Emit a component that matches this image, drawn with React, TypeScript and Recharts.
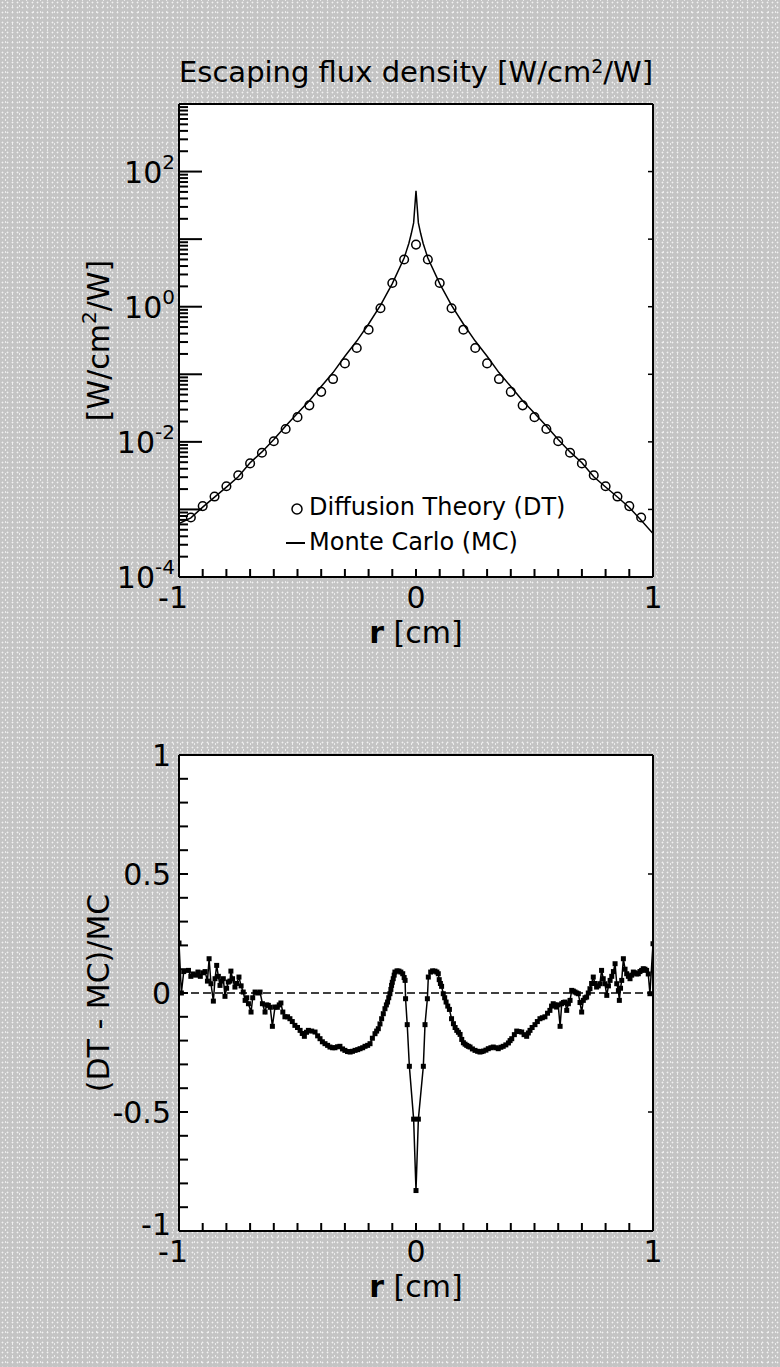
import React from 'react';
import {
  ComposedChart,
  LineChart,
  Line,
  Scatter,
  XAxis,
  YAxis,
  ReferenceLine,
  Legend,
  CartesianGrid,
} from 'recharts';

const FONT = '"DejaVu Sans", "Liberation Sans", Arial, sans-serif';

// ---------- Top chart: escaping flux density ----------
const dtR = [
  -0.95, -0.9, -0.85, -0.8, -0.75, -0.7, -0.65, -0.6, -0.55, -0.5,
  -0.45, -0.4, -0.35, -0.3, -0.25, -0.2, -0.15, -0.1, -0.05, 0,
  0.05, 0.1, 0.15, 0.2, 0.25, 0.3, 0.35, 0.4, 0.45, 0.5,
  0.55, 0.6, 0.65, 0.7, 0.75, 0.8, 0.85, 0.9, 0.95,
];
const dtFlux = [
  0.00076, 0.00112, 0.00155, 0.0022, 0.0032, 0.0048, 0.0069, 0.0102, 0.0155, 0.0232,
  0.0347, 0.055, 0.085, 0.145, 0.245, 0.457, 0.95, 2.24, 5.0, 8.3,
  5.0, 2.24, 0.95, 0.457, 0.245, 0.145, 0.085, 0.055, 0.0347, 0.0232,
  0.0155, 0.0102, 0.0069, 0.0048, 0.0032, 0.0022, 0.00155, 0.00112, 0.00076,
];

const mcR = [
  -1, -0.95, -0.9, -0.85, -0.8, -0.75, -0.7, -0.65, -0.6, -0.55,
  -0.5, -0.45, -0.4, -0.35, -0.3, -0.25, -0.2, -0.15, -0.1, -0.05,
  -0.04, -0.03, -0.02, -0.01, 0, 0.01, 0.02, 0.03, 0.04, 0.05,
  0.1, 0.15, 0.2, 0.25, 0.3, 0.35, 0.4, 0.45, 0.5, 0.55,
  0.6, 0.65, 0.7, 0.75, 0.8, 0.85, 0.9, 0.95, 1,
];
const mcFlux = [
  0.00062, 0.00075, 0.00108, 0.00152, 0.00214, 0.00305, 0.0049, 0.0071, 0.0108, 0.0171,
  0.0265, 0.0405, 0.066, 0.106, 0.185, 0.31, 0.555, 1.05, 2.2, 5.25,
  6.76, 8.7, 12.0, 17.4, 52, 17.4, 12.0, 8.7, 6.76, 5.25,
  2.2, 1.05, 0.555, 0.31, 0.185, 0.106, 0.066, 0.0405, 0.0265, 0.0171,
  0.0108, 0.0071, 0.0049, 0.00304, 0.00215, 0.00153, 0.00107, 0.00069, 0.00044,
];

const fluxDecades = [1e-4, 1e-3, 1e-2, 1e-1, 1, 10, 100, 1000];
const fluxMantissas = [1, 2, 3, 4, 5, 6, 7, 8, 9];
const fluxLabelExps = [-4, -2, 0, 2];

const rTicks = [
  -1, -0.9, -0.8, -0.7, -0.6, -0.5, -0.4, -0.3, -0.2, -0.1, 0,
  0.1, 0.2, 0.3, 0.4, 0.5, 0.6, 0.7, 0.8, 0.9, 1,
];
const rLabels = [-1, 0, 1];
const topTicks = [0];

// ---------- Bottom chart: (DT - MC)/MC ----------
const diffR = [
  -1, -0.99, -0.98, -0.96, -0.95, -0.94, -0.93, -0.92, -0.91, -0.9,
  -0.89, -0.88, -0.873, -0.865, -0.855, -0.848, -0.841, -0.834, -0.827, -0.82,
  -0.813, -0.806, -0.799, -0.792, -0.785, -0.781, -0.774, -0.764, -0.757, -0.747,
  -0.738, -0.729, -0.721, -0.714, -0.707, -0.696, -0.689, -0.679, -0.668, -0.658,
  -0.648, -0.637, -0.63, -0.623, -0.615, -0.606, -0.595, -0.585, -0.577, -0.57,
  -0.562, -0.553, -0.542, -0.532, -0.522, -0.511, -0.5, -0.489, -0.48, -0.471,
  -0.462, -0.454, -0.44, -0.426, -0.415, -0.405, -0.395, -0.384, -0.373, -0.363,
  -0.352, -0.342, -0.331, -0.321, -0.31, -0.3, -0.289, -0.278, -0.268, -0.257,
  -0.246, -0.236, -0.225, -0.215, -0.204, -0.194, -0.184, -0.173, -0.166, -0.159,
  -0.152, -0.145, -0.138, -0.131, -0.125, -0.12, -0.115, -0.11, -0.106, -0.103,
  -0.1, -0.096, -0.092, -0.089, -0.08, -0.072, -0.064, -0.056, -0.05, -0.046,
  -0.044, -0.037, -0.028, -0.01, 0,
  0.01, 0.031, 0.038, 0.048, 0.052, 0.062, 0.07, 0.08, 0.088, 0.094,
  0.098, 0.103, 0.108, 0.115, 0.121, 0.127, 0.134, 0.141, 0.15, 0.158,
  0.165, 0.172, 0.179, 0.186, 0.193, 0.2, 0.207, 0.214, 0.221, 0.228,
  0.238, 0.249, 0.26, 0.27, 0.277, 0.284, 0.295, 0.305, 0.316, 0.326,
  0.337, 0.347, 0.358, 0.368, 0.379, 0.39, 0.397, 0.404, 0.415, 0.425,
  0.435, 0.446, 0.456, 0.467, 0.474, 0.481, 0.49, 0.502, 0.512, 0.523,
  0.533, 0.544, 0.555, 0.565, 0.572, 0.579, 0.586, 0.593, 0.6, 0.608,
  0.615, 0.622, 0.629, 0.636, 0.643, 0.65, 0.657, 0.664, 0.671, 0.678,
  0.685, 0.692, 0.699, 0.706, 0.713, 0.72, 0.727, 0.734, 0.741, 0.748,
  0.755, 0.762, 0.769, 0.776, 0.783, 0.79, 0.797, 0.805, 0.812, 0.819,
  0.826, 0.833, 0.84, 0.847, 0.854, 0.858, 0.863, 0.868, 0.875, 0.882,
  0.889, 0.896, 0.903, 0.91, 0.917, 0.924, 0.931, 0.938, 0.945, 0.952,
  0.959, 0.966, 0.973, 0.98, 0.987, 1,
];
const diffV = [
  0.21, 0.0, 0.09, 0.095, 0.07, 0.08, 0.075, 0.088, 0.07, 0.085,
  0.09, 0.05, 0.144, 0.039, -0.034, 0.06, 0.116, 0.07, 0.032, 0.05,
  0.06, -0.014, 0.02, 0.046, 0.05, 0.092, 0.06, 0.025, 0.04, 0.067,
  0.03, 0.004, -0.031, -0.02, -0.045, -0.08, -0.02, 0.004, 0.0, 0.004,
  -0.045, -0.08, -0.05, -0.052, -0.06, -0.14, -0.059, -0.06, -0.05, -0.042,
  -0.08, -0.1, -0.1, -0.108, -0.12, -0.136, -0.145, -0.157, -0.17, -0.182,
  -0.165, -0.157, -0.16, -0.164, -0.18, -0.192, -0.205, -0.213, -0.22, -0.227,
  -0.23, -0.23, -0.226, -0.224, -0.235, -0.241, -0.246, -0.248, -0.245, -0.241,
  -0.238, -0.234, -0.23, -0.224, -0.22, -0.213, -0.19, -0.171, -0.16, -0.15,
  -0.13, -0.108, -0.087, -0.066, -0.05, -0.038, -0.02, -0.003, 0.015, 0.032,
  0.045, 0.06, 0.075, 0.088, 0.093, 0.092, 0.088, 0.081, 0.065, 0.053,
  -0.024, -0.133, -0.308, -0.53, -0.83,
  -0.53, -0.308, -0.133, -0.024, 0.067, 0.088, 0.093, 0.092, 0.088, 0.081,
  0.056, 0.04, 0.028, -0.003, -0.02, -0.038, -0.055, -0.069, -0.108, -0.129,
  -0.145, -0.157, -0.165, -0.174, -0.195, -0.209, -0.215, -0.22, -0.224, -0.227,
  -0.235, -0.241, -0.245, -0.248, -0.246, -0.244, -0.24, -0.234, -0.23, -0.227,
  -0.23, -0.234, -0.228, -0.224, -0.218, -0.21, -0.2, -0.192, -0.175, -0.16,
  -0.162, -0.164, -0.175, -0.182, -0.168, -0.157, -0.145, -0.133, -0.12, -0.108,
  -0.104, -0.1, -0.085, -0.073, -0.055, -0.045, -0.05, -0.059, -0.05, -0.14,
  -0.045, -0.04, -0.038, -0.073, -0.045, -0.031, 0.011, 0.008, 0.004, 0.0,
  -0.003, -0.04, -0.08, -0.031, -0.02, -0.017, 0.0, 0.018, 0.04, 0.067,
  0.04, 0.025, 0.03, 0.039, 0.095, 0.06, 0.039, -0.01, 0.03, 0.053,
  0.07, 0.09, 0.123, 0.039, 0.01, -0.031, 0.02, 0.053, 0.144, 0.1,
  0.081, 0.07, 0.06, 0.075, 0.088, 0.085, 0.08, 0.081, 0.09, 0.095,
  0.102, 0.1, 0.095, 0.08, -0.003, 0.207,
];
const diffTicks = [
  -1, -0.9, -0.8, -0.7, -0.6, -0.5, -0.4, -0.3, -0.2, -0.1, 0,
  0.1, 0.2, 0.3, 0.4, 0.5, 0.6, 0.7, 0.8, 0.9, 1,
];
const diffLabels = [-1, -0.5, 0, 0.5, 1];
const diffRightTicks = [-0.5, 0, 0.5];

// ---------- built tables ----------
const dtData = dtR.map((r, i) => ({ r, f: dtFlux[i] }));
const mcData = mcR.map((r, i) => ({ r, f: mcFlux[i] }));
const diffData = diffR.map((r, i) => ({ r, v: diffV[i] }));
const fluxTicks: number[] = [];
fluxDecades.forEach((d, di) => {
  fluxMantissas.forEach((m) => {
    if (di === fluxDecades.length - 1 && m > 1) return;
    fluxTicks.push(m * d);
  });
});

const near = (a: number, b: number) => Math.abs(a - b) < 1e-9;
const AX = { stroke: '#000', strokeWidth: 2 };
const TICK_FS = 30;

// ---------- tick renderers ----------
const BottomRTick = (props: any) => {
  const { x, y, payload } = props;
  const v = payload.value;
  const lab = rLabels.find((l) => near(l, v));
  return (
    <g>
      <line x1={x} y1={y} x2={x} y2={y - 8} stroke="#000" strokeWidth={2} />
      {lab !== undefined &&
        (lab < 0 ? (
          <text x={x + 9} y={y + 31} textAnchor="end" fontFamily={FONT} fontSize={TICK_FS} fill="#000">
            {String(lab)}
          </text>
        ) : (
          <text x={x} y={y + 31} textAnchor="middle" fontFamily={FONT} fontSize={TICK_FS} fill="#000">
            {String(lab)}
          </text>
        ))}
    </g>
  );
};

const TopRTick = (props: any) => {
  const { x, y } = props;
  return <line x1={x} y1={y} x2={x} y2={y + 5} stroke="#000" strokeWidth={1.5} />;
};

const FluxLeftTick = (props: any) => {
  const { x, y, payload } = props;
  const v = payload.value;
  const lg = Math.log10(v);
  const e = Math.round(lg);
  const major = Math.abs(lg - e) < 1e-6;
  const showLabel = major && fluxLabelExps.includes(e);
  return (
    <g>
      <line x1={x} y1={y} x2={x + (major ? 23 : 9)} y2={y} stroke="#000" strokeWidth={2} />
      {showLabel && (
        <text x={x - 4} y={y + 11} textAnchor="end" fontFamily={FONT} fontSize={TICK_FS} fill="#000">
          10
          <tspan dy={-14} fontSize={20}>
            {String(e)}
          </tspan>
        </text>
      )}
    </g>
  );
};

const RightSmallTick = (props: any) => {
  const { x, y } = props;
  return <line x1={x} y1={y} x2={x - 5} y2={y} stroke="#000" strokeWidth={1.5} />;
};

const DiffLeftTick = (props: any) => {
  const { x, y, payload } = props;
  const v = payload.value;
  const lab = diffLabels.find((l) => near(l, v));
  const dy = near(v, -1) ? 4 : 11;
  return (
    <g>
      <line x1={x} y1={y} x2={x + 9} y2={y} stroke="#000" strokeWidth={2} />
      {lab !== undefined && (
        <text x={x - 8} y={y + dy} textAnchor="end" fontFamily={FONT} fontSize={TICK_FS} fill="#000">
          {String(lab)}
        </text>
      )}
    </g>
  );
};

// ---------- labels ----------
const XLabel = (props: any) => {
  const vb = props.viewBox;
  return (
    <text x={vb.x + vb.width / 2} y={vb.y + 66} textAnchor="middle" fontFamily={FONT} fontSize={TICK_FS} fill="#000">
      <tspan fontWeight="bold">r</tspan>
      <tspan> [cm]</tspan>
    </text>
  );
};

const FluxYLabel = (props: any) => {
  const vb = props.viewBox;
  const cx = vb.x + 10;
  const cy = vb.y + vb.height / 2;
  return (
    <text
      x={cx}
      y={cy}
      transform={`rotate(-90, ${cx}, ${cy})`}
      textAnchor="middle"
      fontFamily={FONT}
      fontSize={TICK_FS}
      fill="#000"
    >
      [W/cm
      <tspan dy={-13} fontSize={20}>
        2
      </tspan>
      <tspan dy={13}>/W]</tspan>
    </text>
  );
};

const DiffYLabel = (props: any) => {
  const vb = props.viewBox;
  const cx = vb.x + 10;
  const cy = vb.y + vb.height / 2;
  return (
    <text
      x={cx}
      y={cy}
      transform={`rotate(-90, ${cx}, ${cy})`}
      textAnchor="middle"
      fontFamily={FONT}
      fontSize={TICK_FS}
      fill="#000"
    >
      (DT - MC)/MC
    </text>
  );
};

const renderLegend = () => (
  <div style={{ fontFamily: FONT, fontSize: 24, color: '#000', lineHeight: '35px', whiteSpace: 'nowrap' }}>
    <div style={{ display: 'flex', alignItems: 'center' }}>
      <svg width={26} height={20}>
        <circle cx={14} cy={11} r={5} fill="none" stroke="#000" strokeWidth={1.5} />
      </svg>
      <span>Diffusion Theory (DT)</span>
    </div>
    <div style={{ display: 'flex', alignItems: 'center' }}>
      <svg width={26} height={20}>
        <line x1={3} y1={10} x2={22} y2={10} stroke="#000" strokeWidth={2} />
      </svg>
      <span>Monte Carlo (MC)</span>
    </div>
  </div>
);

const DiffDot = (p: any) => (
  <rect key={`d${p.index}`} x={p.cx - 2.5} y={p.cy - 2.5} width={5} height={5} fill="#000" />
);

const DtCircle = (p: any) => (
  <circle cx={p.cx} cy={p.cy} r={4.3} fill="none" stroke="#000" strokeWidth={1.5} />
);

export default function App() {
  const bg: React.CSSProperties = {
    position: 'absolute',
    left: 0,
    top: 0,
    width: 780,
    height: 1367,
    backgroundColor: '#c4c4c4',
    backgroundImage:
      'radial-gradient(circle, #f2f2f2 0.8px, transparent 1.1px), radial-gradient(circle, #ececec 0.7px, transparent 1px)',
    backgroundSize: '5px 5px, 7px 6px',
    backgroundPosition: '0 0, 2px 3px',
    overflow: 'hidden',
    fontFamily: FONT,
  };
  return (
    <div style={bg}>
      <div
        style={{
          position: 'absolute',
          left: 0,
          top: 54,
          width: 832,
          textAlign: 'center',
          fontSize: 29,
          lineHeight: '36px',
          color: '#000',
          fontFamily: FONT,
          whiteSpace: 'nowrap',
        }}
      >
        Escaping flux density [W/cm<sup style={{ fontSize: 19, verticalAlign: 'top', position: 'relative', top: -6 }}>2</sup>/W]
      </div>

      <div style={{ position: 'absolute', left: 0, top: 0 }}>
        <ComposedChart width={780} height={680} margin={{ top: 94, right: 117, bottom: 23, left: 99 }}>
          <CartesianGrid fill="#fff" horizontal={false} vertical={false} stroke="none" />
          <XAxis
            dataKey="r"
            type="number"
            domain={[-1, 1]}
            ticks={rTicks}
            interval={0}
            allowDataOverflow
            height={80}
            tickSize={0}
            tickMargin={0}
            axisLine={AX}
            tick={BottomRTick}
            label={{ content: XLabel }}
          />
          <XAxis
            xAxisId="top"
            orientation="top"
            type="number"
            domain={[-1, 1]}
            ticks={topTicks}
            interval={0}
            height={10}
            tickSize={0}
            tickMargin={0}
            axisLine={AX}
            tick={TopRTick}
          />
          <YAxis
            type="number"
            scale="log"
            domain={[1e-4, 1e3]}
            allowDataOverflow
            ticks={fluxTicks}
            interval={0}
            width={80}
            tickSize={0}
            tickMargin={0}
            axisLine={AX}
            tick={FluxLeftTick}
            label={{ content: FluxYLabel }}
          />
          <YAxis
            yAxisId="right"
            orientation="right"
            type="number"
            scale="log"
            domain={[1e-4, 1e3]}
            allowDataOverflow
            ticks={fluxDecades}
            interval={0}
            width={10}
            tickSize={0}
            tickMargin={0}
            axisLine={AX}
            tick={RightSmallTick}
          />
          <Line
            data={mcData}
            dataKey="f"
            type="linear"
            stroke="#000"
            strokeWidth={1.5}
            dot={false}
            activeDot={false}
            isAnimationActive={false}
          />
          <Scatter data={dtData} dataKey="f" shape={DtCircle} isAnimationActive={false} />
          <Legend
            layout="vertical"
            align="center"
            verticalAlign="middle"
            content={renderLegend}
            wrapperStyle={{ left: 283, top: 490, width: 340 }}
          />
        </ComposedChart>
      </div>

      <div style={{ position: 'absolute', left: 0, top: 680 }}>
        <LineChart width={780} height={687} data={diffData} margin={{ top: 65, right: 117, bottom: 56, left: 99 }}>
          <CartesianGrid fill="#fff" horizontal={false} vertical={false} stroke="none" />
          <XAxis
            dataKey="r"
            type="number"
            domain={[-1, 1]}
            ticks={rTicks}
            interval={0}
            allowDataOverflow
            height={80}
            tickSize={0}
            tickMargin={0}
            axisLine={AX}
            tick={BottomRTick}
            label={{ content: XLabel }}
          />
          <XAxis
            xAxisId="top"
            orientation="top"
            type="number"
            domain={[-1, 1]}
            ticks={topTicks}
            interval={0}
            height={10}
            tickSize={0}
            tickMargin={0}
            axisLine={AX}
            tick={TopRTick}
          />
          <YAxis
            type="number"
            domain={[-1, 1]}
            allowDataOverflow
            ticks={diffTicks}
            interval={0}
            width={80}
            tickSize={0}
            tickMargin={0}
            axisLine={AX}
            tick={DiffLeftTick}
            label={{ content: DiffYLabel }}
          />
          <YAxis
            yAxisId="right"
            orientation="right"
            type="number"
            domain={[-1, 1]}
            allowDataOverflow
            ticks={diffRightTicks}
            interval={0}
            width={10}
            tickSize={0}
            tickMargin={0}
            axisLine={AX}
            tick={RightSmallTick}
          />
          <ReferenceLine y={0} stroke="#000" strokeWidth={1.5} strokeDasharray="8 4" />
          <Line
            dataKey="v"
            type="linear"
            stroke="#000"
            strokeWidth={1.5}
            dot={DiffDot}
            activeDot={false}
            isAnimationActive={false}
          />
        </LineChart>
      </div>
    </div>
  );
}
